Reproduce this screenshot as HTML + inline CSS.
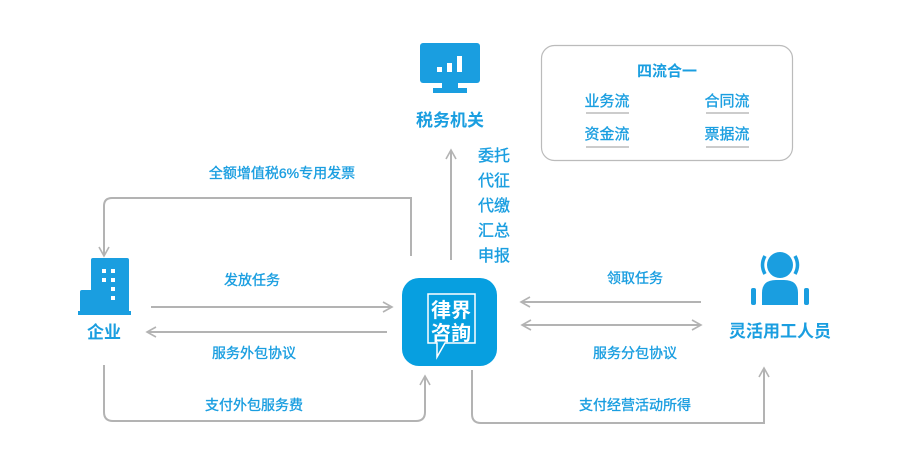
<!DOCTYPE html>
<html><head><meta charset="utf-8"><style>
html,body{margin:0;padding:0;background:#fff;width:900px;height:455px;overflow:hidden}
svg text{font-family:"Liberation Sans","Noto Sans CJK SC",sans-serif;fill:#1a9ee0}
.m{stroke:#1a9ee0;stroke-width:0.35}
</style></head><body>
<svg width="900" height="455" viewBox="0 0 900 455" xmlns="http://www.w3.org/2000/svg">
<defs>
<marker id="a" markerWidth="12" markerHeight="12" refX="10" refY="6" orient="auto" markerUnits="userSpaceOnUse">
<path d="M1,1 L10,6 L1,11" fill="none" stroke="#b3b3b3" stroke-width="1.6"/>
</marker>
<marker id="b" markerWidth="12" markerHeight="12" refX="2" refY="6" orient="auto" markerUnits="userSpaceOnUse">
<path d="M11,1 L2,6 L11,11" fill="none" stroke="#b3b3b3" stroke-width="1.6"/>
</marker>
</defs>
<g fill="none" stroke="#b3b3b3" stroke-width="2">
<path d="M451,260 V150" marker-end="url(#a)"/>
<path d="M411,256 V198 H112 Q104,198 104,206 V256" marker-end="url(#a)"/>
<path d="M151,307 H392" marker-end="url(#a)"/>
<path d="M387,332 H147" marker-end="url(#a)"/>
<path d="M104,365 V412 Q104,421 113,421 H416 Q425,421 425,412 V376" marker-end="url(#a)"/>
<path d="M472,370 V414 Q472,423 481,423 H764 V368" marker-end="url(#a)"/>
<path d="M701,302 H521" marker-end="url(#a)"/>
<path d="M522,325 H701" marker-start="url(#b)" marker-end="url(#a)"/>
</g>
<rect x="541.5" y="45.5" width="251" height="115" rx="13" fill="none" stroke="#bbb" stroke-width="1.2"/>
<text x="667" y="76" font-size="15" font-weight="bold" text-anchor="middle">四流合一</text>
<g class="m" font-size="15" text-anchor="middle">
<text x="607" y="106">业务流</text>
<text x="727" y="106">合同流</text>
<text x="607" y="139">资金流</text>
<text x="727" y="139">票据流</text>
</g>
<g stroke="#ccc" stroke-width="2"><path d="M586,113H629M706,113H749M586,147H629M706,147H749"/></g>
<rect x="420" y="43" width="60" height="40" rx="3" fill="#1a9ee0"/>
<rect x="442" y="83" width="16" height="6" fill="#1a9ee0"/>
<rect x="433" y="88" width="34" height="5" fill="#1a9ee0"/>
<rect x="437" y="67" width="5" height="5" fill="#fff"/><rect x="447" y="63" width="5" height="9" fill="#fff"/><rect x="457" y="56" width="5" height="16" fill="#fff"/>
<text x="450" y="126" font-size="17" font-weight="bold" text-anchor="middle">税务机关</text>
<g font-size="16" class="m"><text x="478" y="161">委托</text><text x="478" y="186">代征</text><text x="478" y="211">代缴</text><text x="478" y="236">汇总</text><text x="478" y="261">申报</text></g>
<g class="m" font-size="14" text-anchor="middle">
<text x="282" y="178">全额增值税6%专用发票</text>
<text x="252" y="285">发放任务</text>
<text x="254" y="358">服务外包协议</text>
<text x="254" y="410">支付外包服务费</text>
<text x="635" y="283">领取任务</text>
<text x="635" y="358">服务分包协议</text>
<text x="635" y="410">支付经营活动所得</text>
</g>
<rect x="91" y="258" width="38" height="56" rx="2" fill="#1a9ee0"/>
<rect x="80" y="290" width="15" height="24" rx="2" fill="#1a9ee0"/>
<rect x="78" y="311" width="53" height="4" fill="#1a9ee0"/>
<g fill="#fff"><rect x="102" y="269" width="4" height="4"/><rect x="111" y="269" width="4" height="4"/><rect x="102" y="278" width="4" height="4"/><rect x="111" y="278" width="4" height="4"/><rect x="111" y="287" width="4" height="4"/><rect x="111" y="296" width="4" height="4"/></g>
<text x="104" y="338" font-size="17" font-weight="bold" text-anchor="middle">企业</text>
<rect x="402" y="278" width="95" height="88" rx="17" fill="#079fe0"/>
<path d="M428,294 H475 V343 H445 L437,357 V343 H428 Z" fill="none" stroke="#fff" stroke-width="1.5"/>
<text x="451" y="317" font-size="20" font-weight="bold" text-anchor="middle" style="fill:#fff">律界</text>
<text x="451" y="340" font-size="20" font-weight="bold" text-anchor="middle" style="fill:#fff">咨詢</text>
<circle cx="780" cy="265" r="13" fill="#1a9ee0"/>
<path d="M762,305 V293 Q762,280 776,280 H784 Q798,280 798,293 V305 Z" fill="#1a9ee0"/>
<path d="M765,256 Q760,265 765,274" fill="none" stroke="#1a9ee0" stroke-width="3.5"/>
<path d="M795,256 Q800,265 795,274" fill="none" stroke="#1a9ee0" stroke-width="3.5"/>
<rect x="751" y="288" width="5" height="17" rx="2" fill="#1a9ee0"/>
<rect x="804" y="288" width="5" height="17" rx="2" fill="#1a9ee0"/>
<text x="780" y="337" font-size="17" font-weight="bold" text-anchor="middle">灵活用工人员</text>
</svg>
</body></html>
